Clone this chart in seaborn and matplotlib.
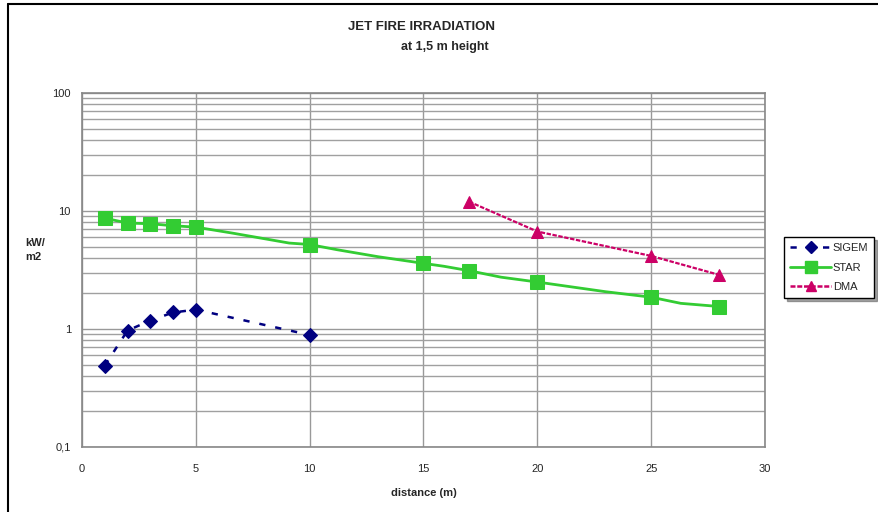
import numpy as np
import pandas as pd
import seaborn as sns
import matplotlib.pyplot as plt
from matplotlib import font_manager
from matplotlib.lines import Line2D
from matplotlib.ticker import FixedLocator, LogLocator, NullFormatter

# data
sigem_x = [1, 2, 3, 4, 5, 10]
sigem_y = [0.49, 0.97, 1.18, 1.38, 1.46, 0.89]

star_x = [1, 2, 3, 4, 5, 6.6, 9.1, 10, 11.2, 13, 15, 15.9, 17, 18.4, 20, 23, 25, 26.3, 28]
star_y = [8.7, 7.9, 7.8, 7.5, 7.3, 6.5, 5.35, 5.2, 4.7, 4.1, 3.6, 3.4, 3.12, 2.75, 2.5, 2.07, 1.86, 1.65, 1.55]
star_marked = [1, 2, 3, 4, 5, 10, 15, 17, 20, 25, 28]

dma_x = [17, 20, 25, 28]
dma_y = [12.0, 6.7, 4.16, 2.87]

x_ticks = [0, 5, 10, 15, 20, 25, 30]
y_ticks = [0.1, 1, 10, 100]
y_ticklabels = ['0,1', '1', '10', '100']

sns.set_style('white')
names = {f.name for f in font_manager.fontManager.ttflist}
fam = 'Liberation Sans Narrow' if 'Liberation Sans Narrow' in names else 'Liberation Sans'
plt.rcParams['font.family'] = [fam, 'DejaVu Sans']

fig = plt.figure(figsize=(8.79, 5.12), dpi=100)
ax = fig.add_axes([82 / 879, 65 / 512, 683 / 879, 354 / 512])

sigem = pd.DataFrame({'x': sigem_x, 'y': sigem_y})
star = pd.DataFrame({'x': star_x, 'y': star_y})
dma = pd.DataFrame({'x': dma_x, 'y': dma_y})

navy = '#000080'
green = '#33CC33'
pink = '#CC0066'
sig_ls = (0, (2.5, 4))
dma_ls = (0, (2, 0.7))

sns.lineplot(data=sigem, x='x', y='y', ax=ax, sort=False, estimator=None,
             color=navy, lw=1.8, linestyle=sig_ls,
             marker='D', markersize=7.5, markeredgecolor=navy, markerfacecolor=navy)
mark_idx = [i for i, v in enumerate(star_x) if v in star_marked]
sns.lineplot(data=star, x='x', y='y', ax=ax, sort=False, estimator=None,
             color=green, lw=2, marker='s', markersize=10, markevery=mark_idx,
             markeredgecolor=green, markerfacecolor=green)
sns.lineplot(data=dma, x='x', y='y', ax=ax, sort=False, estimator=None,
             color=pink, lw=1.6, linestyle=dma_ls,
             marker='^', markersize=9, markeredgecolor=pink, markerfacecolor=pink)

ax.set_yscale('log')
ax.set_xlim(0, 30)
ax.set_ylim(0.1, 100)
ax.xaxis.set_major_locator(FixedLocator(x_ticks))
ax.set_xticklabels([str(t) for t in x_ticks], fontsize=8)
ax.yaxis.set_major_locator(FixedLocator(y_ticks))
ax.set_yticklabels(y_ticklabels, fontsize=8)
ax.yaxis.set_minor_locator(LogLocator(base=10, subs=np.arange(2, 10)))
ax.yaxis.set_minor_formatter(NullFormatter())
ax.tick_params(axis='both', which='both', length=0)
ax.tick_params(axis='y', pad=8)
ax.tick_params(axis='x', pad=12)
ax.grid(True, which='major', axis='both', color='#999999', lw=1)
ax.grid(True, which='minor', axis='y', color='#a0a0a0', lw=1)
ax.set_axisbelow(True)
for s in ax.spines.values():
    s.set_color('#888888')
    s.set_linewidth(1.2)

ax.set_xlabel('distance (m)', fontsize=8, fontweight='bold', labelpad=10)
ax.set_ylabel('')
fig.text(25 / 879, 1 - 250 / 512, 'kW/\nm2', fontsize=8, fontweight='bold',
         ha='left', va='center', linespacing=1.6)

fig.text(422 / 879, 1 - 27 / 512, 'JET FIRE IRRADIATION', fontsize=9.5,
         fontweight='bold', ha='center', va='center')
fig.text(445 / 879, 1 - 47 / 512, 'at 1,5 m height', fontsize=9,
         fontweight='bold', ha='center', va='center')

handles = [
    Line2D([], [], color=navy, lw=1.8, linestyle=sig_ls, marker='D', markersize=6),
    Line2D([], [], color=green, lw=2, marker='s', markersize=8),
    Line2D([], [], color=pink, lw=1.8, linestyle=dma_ls, marker='^', markersize=7),
]
leg = fig.legend(handles, ['SIGEM', 'STAR', 'DMA'], loc='upper left',
                 bbox_to_anchor=(784 / 879, 1 - 237 / 512), fontsize=8,
                 frameon=True, fancybox=False, shadow=True, handlelength=3.7,
                 handletextpad=0.15, borderpad=0.55, labelspacing=0.85,
                 borderaxespad=0)
leg.get_frame().set_edgecolor('black')
leg.get_frame().set_linewidth(1)

# outer frame of the chart area
fig.add_artist(Line2D([8 / 879, 8 / 879], [0, 1 - 4 / 512], color='black', lw=1.5))
fig.add_artist(Line2D([8 / 879, 1], [1 - 4 / 512, 1 - 4 / 512], color='black', lw=1.5))

fig.savefig('out.png', dpi=100)
